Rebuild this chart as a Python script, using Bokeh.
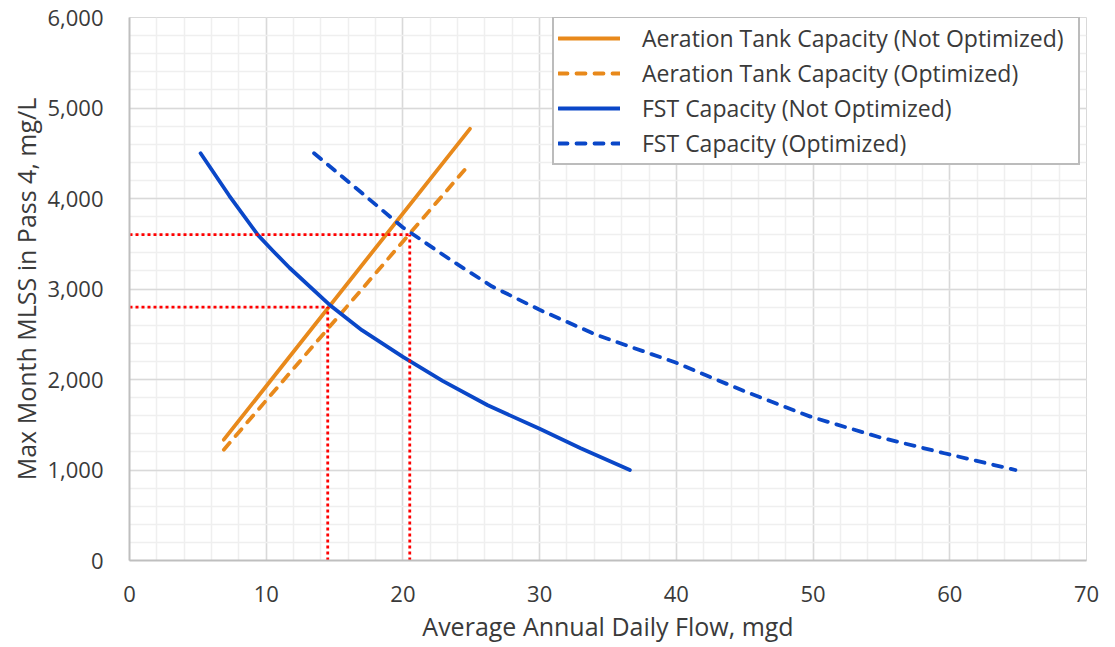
from bokeh.plotting import figure
from bokeh.models import Range1d, FixedTicker, NumeralTickFormatter, Legend, LegendItem
from bokeh.embed import file_html
from bokeh.resources import INLINE

# ---- data ----
at_not_x = [6.9, 24.9]
at_not_y = [1335, 4770]

at_opt_x = [6.9, 24.7]
at_opt_y = [1225, 4350]

fst_not_x = [5.2, 7.3, 9.4, 10.5, 11.7, 14.6, 17.0, 20.0, 22.9, 26.2, 30.0, 33.0, 36.6]
fst_not_y = [4500, 4030, 3595, 3420, 3235, 2830, 2545, 2250, 1985, 1715, 1455, 1240, 1000]

fst_opt_x = [13.5, 17.0, 20.0, 23.6, 26.5, 30.0, 34.2, 39.9, 44.9, 49.8, 54.9, 59.6, 64.8]
fst_opt_y = [4500, 4060, 3680, 3310, 3030, 2770, 2490, 2190, 1875, 1590, 1360, 1185, 1000]

# reference (red dotted) lines
ref_h_y = [3600, 2800]
ref_h_xend = [20.5, 14.5]

x_ticks = [0, 10, 20, 30, 40, 50, 60, 70]
y_ticks = [0, 1000, 2000, 3000, 4000, 5000, 6000]

labels = ["Aeration Tank Capacity (Not Optimized)",
          "Aeration Tank Capacity (Optimized)",
          "FST Capacity (Not Optimized)",
          "FST Capacity (Optimized)"]

ORANGE = "#E8891B"
BLUE = "#0A47C8"
RED = "#FF0000"
FONT = "Open Sans"
TXT = "#3a3a3a"

p = figure(width=1110, height=645, output_backend="svg", toolbar_location=None,
           x_range=Range1d(0, 70), y_range=Range1d(0, 6000),
           min_border_left=129, min_border_right=24, min_border_top=17,
           min_border_bottom=85)
p.outline_line_color = "#d9d9d9"
p.background_fill_color = "white"
p.border_fill_color = "white"

p.xaxis.ticker = FixedTicker(ticks=x_ticks, minor_ticks=list(range(0, 71, 2)))
p.yaxis.ticker = FixedTicker(ticks=y_ticks, minor_ticks=list(range(0, 6001, 200)))
p.yaxis.formatter = NumeralTickFormatter(format="0,0")

for ax in (p.xaxis, p.yaxis):
    ax.axis_line_color = "#bfbfbf"
    ax.axis_line_width = 2
    ax.major_tick_line_color = None
    ax.minor_tick_line_color = None
    ax.major_label_text_font = FONT
    ax.major_label_text_font_size = "22px"
    ax.major_label_text_color = TXT
    ax.axis_label_text_font = FONT
    ax.axis_label_text_font_size = "25px"
    ax.axis_label_text_font_style = "normal"
    ax.axis_label_text_color = TXT

p.xaxis.axis_label = "Average Annual Daily Flow, mgd"
p.yaxis.axis_label = "Max Month MLSS in Pass 4, mg/L"
p.xaxis.major_label_standoff = 19
p.xaxis.axis_label_standoff = 4
p.yaxis.major_label_standoff = 20
p.yaxis.axis_label_standoff = 1

for g in (p.xgrid, p.ygrid):
    g.grid_line_color = "#d9d9d9"
    g.grid_line_width = 1.5
    g.minor_grid_line_color = "#efefef"
    g.minor_grid_line_width = 1.5

LW = 3.8
r1 = p.line(at_not_x, at_not_y, line_color=ORANGE, line_width=LW, line_cap="round")
r2 = p.line(at_opt_x, at_opt_y, line_color=ORANGE, line_width=LW, line_cap="round",
            line_dash="9 9")
r3 = p.line(fst_not_x, fst_not_y, line_color=BLUE, line_width=LW, line_cap="round",
            line_join="round")
r4 = p.line(fst_opt_x, fst_opt_y, line_color=BLUE, line_width=LW, line_cap="round",
            line_join="round", line_dash="9 9")

# red dotted guide lines
p.segment(x0=[0] * len(ref_h_y), y0=ref_h_y, x1=ref_h_xend, y1=ref_h_y,
          line_color=RED, line_width=2.8, line_dash="3 3")
p.segment(x0=ref_h_xend, y0=[0] * len(ref_h_y), x1=ref_h_xend, y1=ref_h_y,
          line_color=RED, line_width=2.8, line_dash="3 3")

legend = Legend(items=[LegendItem(label=labels[0], renderers=[r1]),
                       LegendItem(label=labels[1], renderers=[r2]),
                       LegendItem(label=labels[2], renderers=[r3]),
                       LegendItem(label=labels[3], renderers=[r4])],
                location=(423, 395))
legend.label_text_font = FONT
legend.label_text_font_size = "23px"
legend.label_text_color = TXT
legend.glyph_width = 62
legend.glyph_height = 28
legend.label_height = 28
legend.label_width = 432
legend.label_standoff = 22
legend.spacing = 3
legend.padding = 4
legend.margin = 0
legend.border_line_color = "#7a7a7a"
legend.border_line_width = 2
legend.background_fill_color = "white"
legend.background_fill_alpha = 1
p.add_layout(legend, "center")

open("out.html", "w").write(file_html(p, INLINE))
